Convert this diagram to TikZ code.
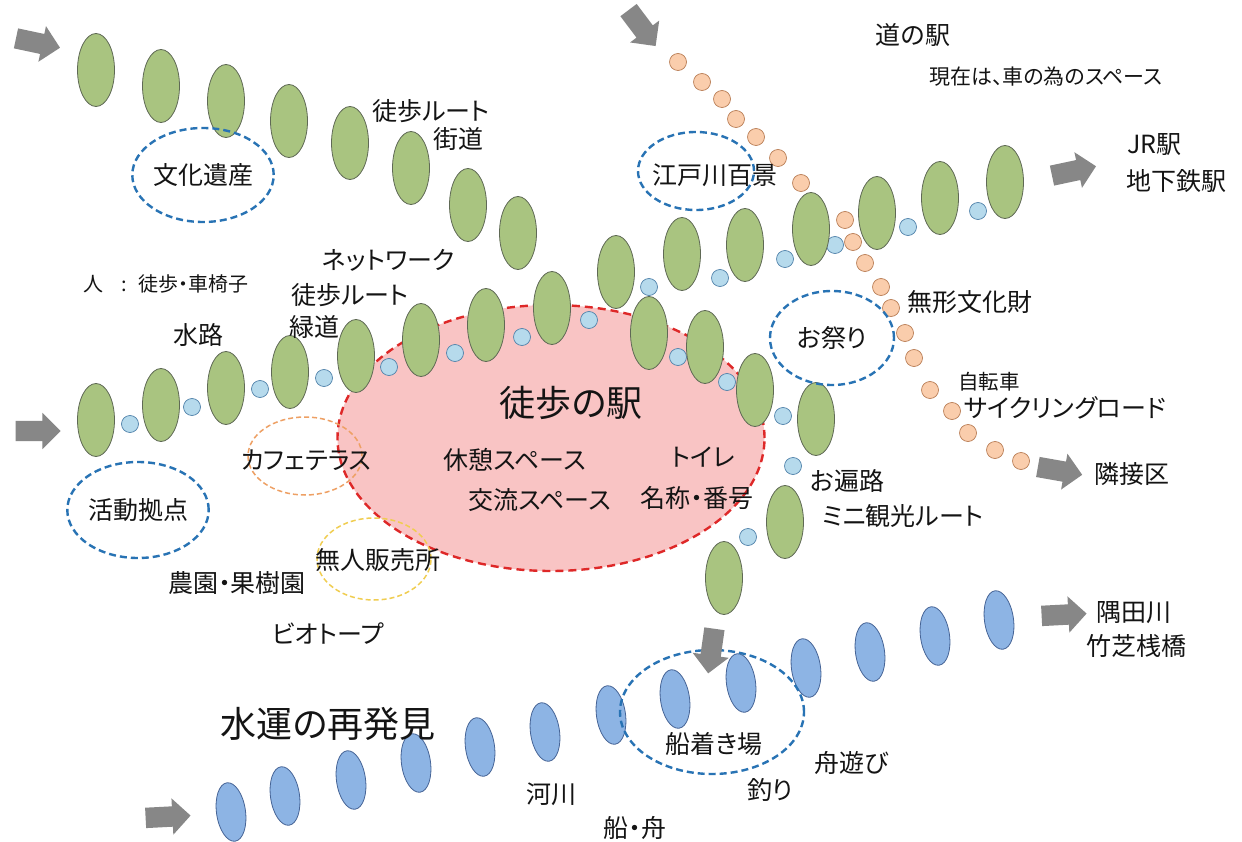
\documentclass[tikz,border=0pt]{standalone}
\usepackage{fontspec}
\setmainfont{Noto Sans CJK JP}[RawFeature=+palt]
\usetikzlibrary{shapes.geometric,shapes.arrows}
\definecolor{gfill}{RGB}{169,196,128}
\definecolor{gedge}{RGB}{95,105,85}
\definecolor{bfill}{RGB}{182,218,236}
\definecolor{bedge}{RGB}{80,130,170}
\definecolor{ofill}{RGB}{250,205,172}
\definecolor{oedge}{RGB}{185,125,85}
\definecolor{wfill}{RGB}{141,180,228}
\definecolor{wedge}{RGB}{70,100,150}
\definecolor{redfill}{RGB}{249,196,196}
\definecolor{redline}{RGB}{222,40,40}
\definecolor{dblue}{RGB}{40,115,180}
\definecolor{dorange}{RGB}{238,160,100}
\definecolor{dyellow}{RGB}{240,205,80}
\definecolor{agray}{RGB}{135,135,135}
\definecolor{txt}{RGB}{20,20,20}
\tikzset{
  gell/.style={ellipse, draw=gedge, fill=gfill, line width=0.8pt, minimum width=37pt, minimum height=73pt, inner sep=0pt},
  bdot/.style={circle, draw=bedge, fill=bfill, line width=0.7pt, minimum size=17pt, inner sep=0pt},
  odot/.style={circle, draw=oedge, fill=ofill, line width=0.7pt, minimum size=17pt, inner sep=0pt},
  well/.style={ellipse, draw=wedge, fill=wfill, line width=0.8pt, minimum width=29pt, minimum height=59pt, inner sep=0pt, rotate=8},
  garrow/.style={single arrow, fill=agray, draw=none, inner xsep=0pt, inner ysep=10pt, single arrow head extend=8pt, minimum height=45pt},
  bring/.style={ellipse, draw=dblue, line width=2.4pt, dash pattern=on 7pt off 4pt, inner sep=0pt, text=txt, font=\fontsize{25}{28}\selectfont},
  lab/.style={inner sep=0pt, text=txt, font=\fontsize{25}{28}\selectfont},
  slab/.style={inner sep=0pt, text=txt, font=\fontsize{20.5}{23}\selectfont},
  blab/.style={inner sep=0pt, text=txt, font=\fontsize{36}{40}\selectfont},
}
\begin{document}
\begin{tikzpicture}[x=1pt,y=-1pt]
\useasboundingbox (0,0) rectangle (1242,842);
\fill[white] (0,0) rectangle (1242,842);

% central station area
\node[ellipse, fill=redfill, draw=redline, line width=2.4pt, dash pattern=on 8pt off 5pt, minimum width=427pt, minimum height=266pt, inner sep=0pt] (eki) at (551,438) {};

% orange dots (cycling road)
\foreach \x/\y [count=\i] in {678/62, 702/82, 722/99, 736/119, 756/137, 778/158, 801/183, 845/220, 853/242, 865/263, 881/287, 891/308, 905/333, 914/358, 930/390, 952/411, 968/433, 995/450, 1021/461}
  \node[odot] (o\i) at (\x,\y) {};

% blue dots
\foreach \x/\y [count=\i] in {130/424, 192/407, 260/389, 324/378, 389/367, 455/353, 522/337, 589/320, 649/287, 720/278, 785/259, 835/245, 908/227, 978/211, 678/357, 727/382, 783/416, 793/466, 748/537}
  \node[bdot] (b\i) at (\x,\y) {};

% green ellipses: upper route
\foreach \x/\y [count=\i] in {96/70, 161/86, 226/101, 289/121, 350/143, 411/168, 468/205, 518/233}
  \node[gell] (t\i) at (\x,\y) {};
% green ellipses: towards JR
\foreach \x/\y [count=\i] in {616/272, 682/254, 745/245, 811/229, 877/213, 940/198, 1005/182}
  \node[gell] (j\i) at (\x,\y) {};
% green ellipses: middle route
\foreach \x/\y [count=\i] in {96/420, 161/405, 226/388, 290/372, 356/356, 421/340, 486/325, 552/308}
  \node[gell] (m\i) at (\x,\y) {};
% green ellipses: down to the river
\foreach \x/\y [count=\i] in {649/333, 705/347, 755/390, 816/419, 785/522, 724/578}
  \node[gell] (r\i) at (\x,\y) {};

% water route
\foreach \x/\y [count=\i] in {231/812, 285/796, 351/780, 416/763, 480/747, 545/732, 611/715, 675/699, 741/683, 806/668, 870/652, 935/636, 999/620}
  \node[well] (w\i) at (\x,\y) {};

% dashed rings
\node[bring, minimum width=126pt, minimum height=94pt] (bunka) at (203,175) {文化遺産};
\node[bring, minimum width=116pt, minimum height=78pt] (edo) at (696,171) {};
\node[bring, minimum width=124pt, minimum height=94pt] (matsuri) at (832,338) {お祭り};
\node[bring, minimum width=126pt, minimum height=96pt] (katsudo) at (138,510) {活動拠点};
\node[bring, minimum width=184pt, minimum height=124pt] (funa) at (712,712) {};
\node[ellipse, draw=dorange, line width=1.5pt, dash pattern=on 5pt off 3pt, minimum width=114pt, minimum height=78pt, inner sep=0pt] (cafe) at (305,456) {};
\node[ellipse, draw=dyellow, line width=1.5pt, dash pattern=on 5pt off 3pt, minimum width=114pt, minimum height=82pt, inner sep=0pt] (mujin) at (374,559) {};

% arrows
\node[garrow, rotate=-12] (a1) at (33,42) {};
\node[garrow, rotate=-53] (a2) at (639,24) {};
\node[garrow, rotate=12] (a3) at (1069,172) {};
\node[garrow, rotate=0] (a4) at (33,431) {};
\node[garrow, rotate=-10] (a5) at (1055,470) {};
\node[garrow, rotate=-98] (a6) at (712,646) {};
\node[garrow, rotate=3] (a7) at (1059,615) {};
\node[garrow, rotate=3] (a8) at (163,817) {};

% labels
\node[lab, anchor=east] (l1) at (490,111) {徒歩ルート};
\node[lab, anchor=east] (l2) at (484,139) {街道};
\node[lab] (l3) at (715,175) {江戸川百景};
\node[lab] (l4) at (913,35) {道の駅};
\node[inner sep=0pt, text=txt, font=\fontsize{21}{24}\selectfont, anchor=west] (l5) at (929,77) {現在は、車の為のスペース};
\node[lab, anchor=west] (l6) at (1127,145) {JR駅};
\node[lab, anchor=west] (l7) at (1126,181) {地下鉄駅};
\node[inner sep=0pt, text=txt, font=\fontsize{20}{23}\selectfont, anchor=west] (l8) at (83,284) {人\hspace{18pt}:\hspace{12pt}徒歩・車椅子};
\node[lab, anchor=west] (l9) at (322,260) {ネットワーク};
\node[lab, anchor=west] (l10) at (291,295) {徒歩ルート};
\node[lab, anchor=west] (l11) at (289,327) {緑道};
\node[lab] (l12) at (198,335) {水路};
\node[lab, anchor=west] (l13) at (907,302) {無形文化財};
\node[slab, anchor=west] (l14) at (958,382) {自転車};
\node[lab, anchor=west] (l15) at (964,408) {サイクリングロード};
\node[lab, anchor=west] (l16) at (1094,474) {隣接区};
\node[blab] (l17) at (571,403) {徒歩の駅};
\node[lab] (l18) at (515,460) {休憩スペース};
\node[lab] (l19) at (540,500) {交流スペース};
\node[lab] (l20) at (703,457) {トイレ};
\node[lab] (l21) at (697,498) {名称・番号};
\node[lab] (l22) at (306,460) {カフェテラス};
\node[lab] (l23) at (378,560) {無人販売所};
\node[lab] (l24) at (237,583) {農園・果樹園};
\node[lab] (l25) at (328,634) {ビオトープ};
\node[lab, anchor=west] (l26) at (810,481) {お遍路};
\node[lab, anchor=west] (l27) at (822,516) {ミニ観光ルート};
\node[lab, anchor=west] (l28) at (1096,613) {隅田川};
\node[lab, anchor=west] (l29) at (1086,646) {竹芝桟橋};
\node[blab] (l30) at (328,724) {水運の再発見};
\node[lab] (l31) at (551,794) {河川};
\node[lab] (l32) at (635,828) {船・舟};
\node[lab] (l33) at (714,744) {船着き場};
\node[lab] (l34) at (852,763) {舟遊び};
\node[lab] (l35) at (770,790) {釣り};
\end{tikzpicture}
\end{document}
